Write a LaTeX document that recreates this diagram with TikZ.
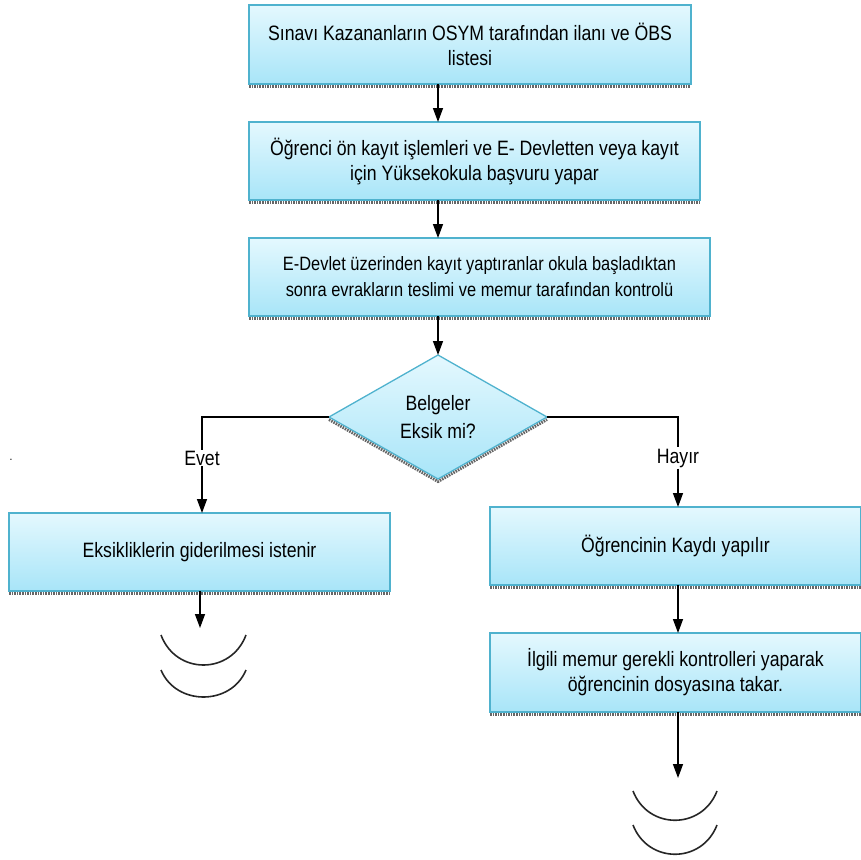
\documentclass[tikz,border=0pt]{standalone}
\usepackage{fontspec}
\setmainfont[FakeStretch=0.85]{Liberation Sans}
\usetikzlibrary{shapes.geometric,arrows.meta,backgrounds}

\definecolor{boxtop}{HTML}{E4F8FE}
\definecolor{boxbot}{HTML}{A8E5F8}
\definecolor{boxline}{HTML}{4FB2CE}

\tikzset{
  stepbox/.style={draw=boxline, line width=1.3pt, top color=boxtop, bottom color=boxbot,
    rectangle, inner sep=0pt, outer sep=0pt, align=center,
    font=\fontsize{20.8}{25}\selectfont},
  decision/.style={draw=boxline, line width=1.3pt, top color=boxtop, bottom color=boxbot,
    diamond, inner sep=0pt, outer sep=0pt, align=center,
    minimum width=218pt, minimum height=124pt,
    font=\fontsize{20.8}{28}\selectfont},
  fringe/.style={line width=3pt, draw=black!60, dash pattern=on 1.6pt off 1pt},
  link/.style={draw=black, line width=1.4pt},
  arr/.style={link, -{Triangle[length=14pt,width=10pt]}},
  branch/.style={inner sep=1pt, font=\fontsize{20.8}{25}\selectfont},
  cont/.style={draw=black!85, line width=1.6pt}
}

\begin{document}
\begin{tikzpicture}[x=1pt,y=-1pt]
\useasboundingbox (0,0) rectangle (861,859);

% process boxes
\node[stepbox, minimum width=442pt, minimum height=79pt] (b1) at (470,44.5)
  {Sınavı Kazananların OSYM tarafından ilanı ve ÖBS\\listesi};
\node[stepbox, minimum width=451pt, minimum height=78pt] (b2) at (474.5,161)
  {Öğrenci ön kayıt işlemleri ve E- Devletten veya kayıt\\için Yüksekokula başvuru yapar};
\node[stepbox, minimum width=461pt, minimum height=78pt,
      font=\fontsize{19.3}{26}\selectfont] (b3) at (479.5,277)
  {E-Devlet üzerinden kayıt yaptıranlar okula başladıktan\\sonra evrakların teslimi ve memur tarafından kontrolü};

% decision
\node[decision] (dia) at (438,417) {Belgeler\\Eksik mi?};

% branch labels
\node[branch] (evet) at (202,458) {Evet};
\node[branch] (hayir) at (678,458) {Hayır};

% outcome boxes
\node[stepbox, minimum width=381pt, minimum height=78pt] (b4) at (199.5,552)
  {Eksikliklerin giderilmesi istenir};
\node[stepbox, minimum width=371pt, minimum height=78pt] (b5) at (675.5,546)
  {Öğrencinin Kaydı yapılır};
\node[stepbox, minimum width=371pt, minimum height=79pt] (b6) at (675.5,672.5)
  {İlgili memur gerekli kontrolleri yaparak\\öğrencinin dosyasına takar.};

\node[font=\fontsize{12}{12}\selectfont, inner sep=0pt] (dot) at (11,460) {.};

% free ends of the last arrows
\coordinate (e1) at (200,628);
\coordinate (e2) at (678,778);

% fringes under the shapes
\begin{pgfonlayer}{background}
  \foreach \b in {b1,b2,b3,b4,b5,b6}
    \draw[fringe] ([yshift=-2pt]\b.south west) -- ([yshift=-2pt]\b.south east);
  \draw[fringe] ([yshift=-2.5pt]dia.west) -- ([yshift=-2.5pt]dia.south) -- ([yshift=-2.5pt]dia.east);
\end{pgfonlayer}

% connectors
\draw[arr] (b1.south -| dia.north) -- (b2.north -| dia.north);
\draw[arr] (b2.south -| dia.north) -- (b3.north -| dia.north);
\draw[arr] (b3.south -| dia.north) -- (dia.north);
\draw[link] (dia.west) -| (evet.north);
\draw[link] (dia.east) -| (hayir.north);
\draw[arr] (evet.south) -- (b4.north -| evet.south);
\draw[arr] (hayir.south) -- (b5.north -| hayir.south);
\draw[arr] (b4.south -| e1) -- (e1);
\draw[arr] (b5.south -| hayir.south) -- (b6.north -| hayir.south);
\draw[arr] (b6.south -| e2) -- (e2);

% continuation marks
\draw[cont] (161,635) .. controls (176,675) and (231,675) .. (246,635);
\draw[cont] (161,670) .. controls (176,706) and (231,706) .. (246,670);
\draw[cont] (633,791) .. controls (648,830) and (702,830) .. (717,791);
\draw[cont] (633,825) .. controls (648,864) and (702,864) .. (717,825);
\end{tikzpicture}
\end{document}
